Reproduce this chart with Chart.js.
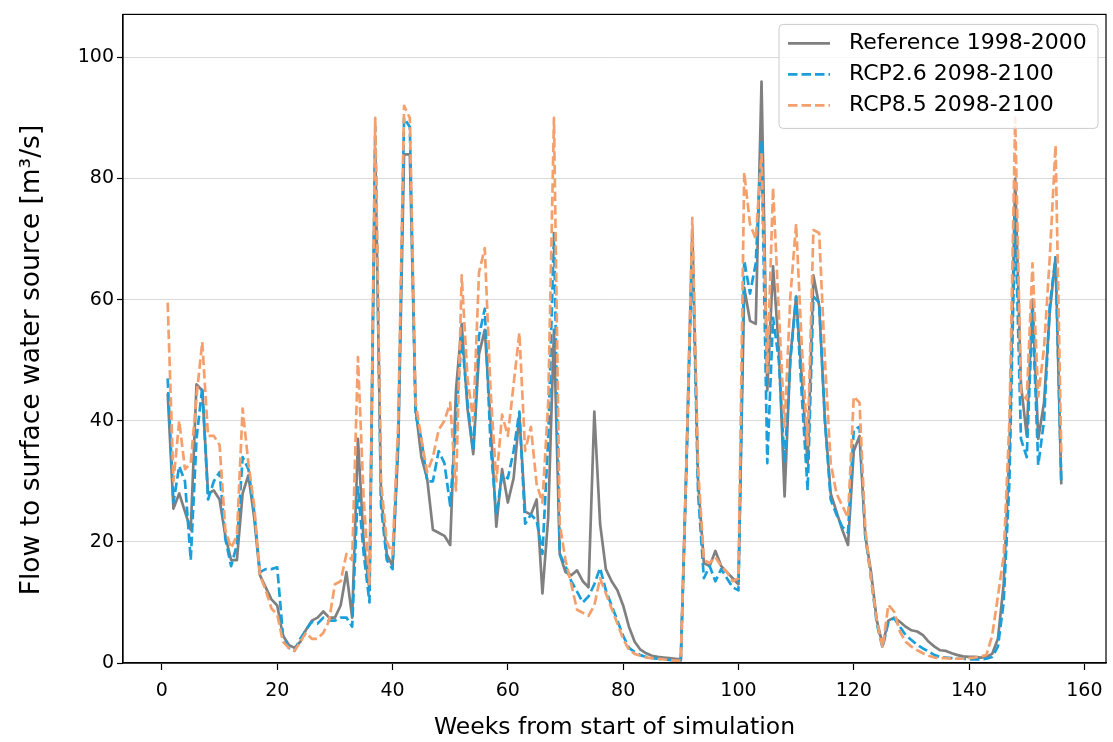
<!DOCTYPE html>
<html lang="en">
<head>
  <meta charset="UTF-8">
  <title>Flow to surface water source</title>
  <script src="https://cdn.jsdelivr.net/npm/chart.js"></script>
  <style>
    body {
      margin: 0;
      background-color: white;
    }
    #wrap {
      width: 1113px;
      height: 742px;
    }
  </style>
</head>
<body>
  <div id="wrap"><canvas id="chart" width="1113" height="742"></canvas></div>

  <script>
    // weekly flow values [m3/s], week 1 .. 156
    const reference = [
      44.5, 25.5, 28, 25, 22, 46, 45, 28, 28.5, 27,
      21, 17, 17, 28, 31, 24, 14.5, 12.5, 10.5, 9.5,
      4.5, 3, 2.5, 3.5, 5.5, 7, 7.5, 8.5, 7.5, 7.5,
      9.5, 15, 7.5, 37, 20, 12, 85, 28, 18, 16,
      36, 84, 84, 42, 34, 30.5, 22, 21.5, 21, 19.5,
      45, 56, 42, 34.5, 51, 55, 40, 22.5, 32, 26.5,
      30.5, 41, 25, 24.5, 27, 11.5, 24, 55, 18, 15,
      14.5, 15.3, 13.5, 12.5, 41.5, 23, 15.5, 13.5, 12, 9.5,
      6, 3.5, 2.2, 1.6, 1.2, 1.0, 0.9, 0.8, 0.7, 0.6,
      34, 71.5, 30, 16.5, 16, 18.5, 16, 15, 14, 13,
      62, 56.5, 56, 96, 45, 65.5, 52, 27.5, 50.5, 60.5,
      47, 33, 64, 59, 40, 28, 25, 22, 19.5, 35,
      37.5, 21, 15, 7, 3, 7, 7.5, 6.8, 6, 5.4,
      5.2, 4.6, 3.5, 2.7, 2.1, 2, 1.6, 1.3, 1.1, 1.0,
      1.0, 0.9, 1.0, 1.5, 4, 13, 35, 80, 46, 37.5,
      60, 37, 43, 58, 67, 29.5
    ];

    const rcp26 = [
      47, 26.5, 32.5, 30, 17, 37, 45.5, 27, 30, 31.5,
      20.5, 16, 19.5, 34, 32, 25, 15, 15.5, 15.5, 15.8,
      4.5, 2.5, 2, 4, 5.5, 6.8, 6.5, 7.5, 7, 7,
      7.5, 7.5, 6, 29, 18, 10, 88.5, 26, 17, 15.5,
      38, 90, 88.5, 41, 37, 30, 30, 35, 33, 26,
      40, 54, 43, 35, 54, 58.5, 36, 24.5, 31, 30.5,
      35, 41.5, 23, 24.5, 23.5, 18, 37, 71, 18, 16,
      13.5, 11.8, 10, 11, 13, 15.7, 12, 9.5, 7, 4.5,
      2.5, 1.8, 1.3, 1, 0.8, 0.7, 0.6, 0.5, 0.4, 0.4,
      33, 69.5, 28, 14, 16, 13.5, 15.5, 14, 12.5, 12,
      66.5, 61, 66, 86, 33, 57, 50, 33, 50, 60.5,
      44, 28.5, 60.5, 59.5, 40, 27, 24.5, 22.5, 21.5, 38.5,
      39, 21, 14, 6.5, 2.5, 6.8, 7.4, 6, 4.6, 3.8,
      3, 2.4, 1.9, 1.3, 1, 0.9, 0.8, 0.7, 0.7, 0.6,
      0.6, 0.6, 0.7, 1, 2.7, 10, 30, 74, 37, 34,
      58, 32.7, 40, 59, 67, 29.5
    ];

    const rcp85 = [
      59.5, 30, 40, 32, 33, 44, 53, 37.5, 37.5, 36,
      22, 19, 21, 42, 33, 26, 14.5, 12, 9, 8,
      3.5, 2.5, 2, 3.5, 5, 4, 4, 5, 7, 13,
      13.5, 18, 17, 50.5, 27, 13, 90, 30, 20, 18,
      40, 92, 90, 43, 37, 31.5, 34, 38.5, 40, 43,
      28.5, 64, 47, 40, 64.5, 68.5, 45, 30, 41, 37.5,
      46, 54.5, 35, 39, 29.5, 26.5, 43, 90, 23, 17,
      13, 8.8, 8.3, 7.8, 9.5, 14, 11.5, 9, 6.5, 4,
      2.2, 1.5, 1.2, 0.9, 0.8, 0.7, 0.6, 0.5, 0.4, 0.4,
      34, 73.5, 32, 17, 16.5, 17.5, 16, 15, 13.5, 14,
      81, 72.5, 70, 84, 48, 78.5, 58, 39, 60.5, 72.5,
      52, 36, 71.5, 71, 50, 33, 28, 26, 24, 44,
      43, 22, 14, 7, 2.5, 9.6, 8.5, 5.2, 3.5, 2.7,
      2.1, 1.6, 1.2, 0.9, 0.8, 0.8, 0.7, 0.7, 0.7, 0.8,
      0.9, 1.1, 1.3, 4.5, 11, 17.7, 40, 90, 44.7, 43.5,
      66, 44, 52, 67, 85.5, 34
    ];

    const seriesNames = ['Reference 1998-2000', 'RCP2.6 2098-2100', 'RCP8.5 2098-2100'];
    const xTicks = [0, 20, 40, 60, 80, 100, 120, 140, 160];
    const yTicks = [0, 20, 40, 60, 80, 100];
    const yTitle = 'Flow to surface water source [m³/s]';

    const toPoints = arr => arr.map((v, i) => ({x: i + 1, y: v}));

    Chart.defaults.font.family = "'DejaVu Sans', sans-serif";
    Chart.defaults.color = '#000';

    // frame around the plot area, the y axis title and the legend box
    const framePlugin = {
      id: 'frame',
      afterDraw(chart) {
        const {ctx, chartArea} = chart;
        ctx.save();
        ctx.strokeStyle = '#000';
        ctx.lineWidth = 1.2;
        ctx.strokeRect(chartArea.left, chartArea.top, chartArea.right - chartArea.left, chartArea.bottom - chartArea.top);

        // y title
        ctx.save();
        ctx.translate(32, 360);
        ctx.rotate(-Math.PI / 2);
        ctx.font = "26.5px 'DejaVu Sans'";
        ctx.textAlign = 'center';
        ctx.textBaseline = 'middle';
        ctx.fillStyle = '#000';
        ctx.fillText(yTitle, 0, 0);
        ctx.restore();

        // legend
        const bw = 319, bh = 104;
        const bx = chartArea.right - 8 - bw;
        const by = chartArea.top + 10;
        ctx.beginPath();
        ctx.roundRect(bx, by, bw, bh, 4);
        ctx.fillStyle = 'rgba(255,255,255,0.8)';
        ctx.fill();
        ctx.strokeStyle = '#cccccc';
        ctx.lineWidth = 1;
        ctx.stroke();

        ctx.font = "22px 'DejaVu Sans'";
        ctx.textBaseline = 'middle';
        chart.data.datasets.forEach((ds, i) => {
          const yy = by + 19 + i * 31;
          ctx.beginPath();
          ctx.strokeStyle = ds.borderColor;
          ctx.lineWidth = ds.borderWidth;
          ctx.setLineDash(ds.borderDash || []);
          ctx.moveTo(bx + 9, yy);
          ctx.lineTo(bx + 51, yy);
          ctx.stroke();
          ctx.setLineDash([]);
          ctx.fillStyle = '#000';
          ctx.fillText(ds.label, bx + 70, yy);
        });
        ctx.restore();
      }
    };

    new Chart(document.getElementById('chart'), {
      type: 'line',
      data: {
        datasets: [
          {
            label: seriesNames[0],
            data: toPoints(reference),
            borderColor: '#808080',
            borderWidth: 2.7,
            order: 3
          },
          {
            label: seriesNames[1],
            data: toPoints(rcp26),
            borderColor: '#1a9fdb',
            borderWidth: 2.7,
            borderDash: [9.5, 4],
            order: 2
          },
          {
            label: seriesNames[2],
            data: toPoints(rcp85),
            borderColor: '#f5a06c',
            borderWidth: 2.7,
            borderDash: [9.5, 4],
            order: 1
          }
        ]
      },
      options: {
        responsive: false,
        animation: false,
        devicePixelRatio: 1,
        layout: {padding: {top: 12, right: 7, left: 0, bottom: 0}},
        elements: {
          point: {radius: 0},
          line: {tension: 0, borderCapStyle: 'butt', borderJoinStyle: 'round'}
        },
        plugins: {
          legend: {display: false},
          tooltip: {enabled: false}
        },
        scales: {
          x: {
            type: 'linear',
            min: -6.75,
            max: 163.75,
            afterBuildTicks: axis => { axis.ticks = xTicks.map(v => ({value: v})); },
            afterFit: scale => { scale.height = 79; },
            grid: {drawOnChartArea: false, tickColor: '#000', tickLength: 7, tickWidth: 1.2},
            border: {color: '#000', width: 1.2},
            ticks: {font: {size: 19}, padding: 10, maxRotation: 0},
            title: {
              display: true,
              text: 'Weeks from start of simulation',
              font: {size: 23.5},
              padding: {top: 0, bottom: 0}
            }
          },
          y: {
            min: 0,
            max: 107.1,
            afterBuildTicks: axis => { axis.ticks = yTicks.map(v => ({value: v})); },
            afterFit: scale => { scale.width = 123; },
            grid: {color: '#d9d9d9', lineWidth: 1, tickColor: '#000', tickLength: 6, tickWidth: 1.2},
            border: {color: '#000', width: 1.2},
            ticks: {font: {size: 19}, padding: 3}
          }
        }
      },
      plugins: [framePlugin]
    });
  </script>
</body>
</html>
